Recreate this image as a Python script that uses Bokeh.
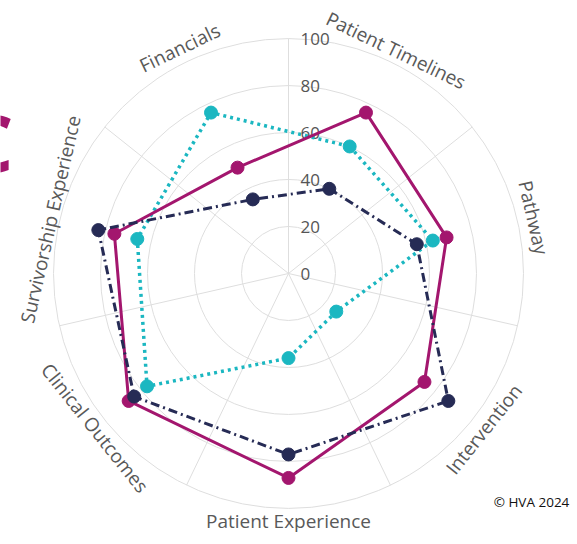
import numpy as np
from bokeh.plotting import figure
from bokeh.models import Range1d, Label
from bokeh.core.properties import value
from bokeh.embed import file_html
from bokeh.resources import INLINE

# ---------------- data ----------------
categories = ["Patient Timelines", "Pathway", "Intervention", "Patient Experience",
              "Clinical Outcomes", "Survivorship Experience", "Financials"]
series_magenta = [76, 69, 74, 87, 87, 76, 50]
series_navy = [40, 56, 87, 77, 84, 83, 35]
series_teal = [60, 63, 26, 36, 77, 66, 76]
radial_ticks = [0, 20, 40, 60, 80, 100]
r_max = 100

# ---------------- layout / style ----------------
W, H = 577, 544
CX, CY = 288, 273          # centre of the radar in pixels (from top-left)
R = 235                    # pixel radius of r_max
LABEL_R = 252
MAGENTA = "#A3166E"
NAVY = "#262B55"
TEAL = "#1BB7C1"
GRID = "#DEDEDE"
TXT = "#595959"
FONT = "Open Sans"

n = len(categories)
step = 2 * np.pi / n
theta = (np.arange(n) + 0.5) * step      # clockwise from top
scale = R / r_max


def to_xy(vals):
    v = np.asarray(vals, dtype=float) * scale
    return v * np.sin(theta), v * np.cos(theta)


p = figure(width=W, height=H, output_backend="svg", toolbar_location=None,
           x_range=Range1d(-CX, W - CX), y_range=Range1d(-(H - CY), CY),
           min_border=0, match_aspect=False)
p.axis.visible = False
p.grid.visible = False
p.outline_line_color = None
p.background_fill_color = "white"
p.border_fill_color = "white"

# grid circles
rings = [t for t in radial_ticks if t > 0]
p.circle(x=[0] * len(rings), y=[0] * len(rings), radius=[t * scale for t in rings],
         fill_color=None, line_color=GRID, line_width=1)

# spokes (between categories)
sp = np.arange(n) * step
p.segment(x0=np.zeros(n), y0=np.zeros(n), x1=R * np.sin(sp), y1=R * np.cos(sp),
          line_color=GRID, line_width=1)

# radial tick labels
p.text(x=[12] * len(radial_ticks), y=[t * scale for t in radial_ticks],
       text=[str(t) for t in radial_ticks], text_align="left", text_baseline="middle",
       text_font=value(FONT), text_font_size="17px", text_color="#555555")

# series
def draw(vals, color, dash, width):
    x, y = to_xy(vals)
    xc = np.append(x, x[0])
    yc = np.append(y, y[0])
    p.line(xc, yc, line_color=color, line_width=width, line_dash=dash,
           line_join="round")
    p.scatter(x, y, size=13, marker="circle", fill_color=color, line_color=color)

draw(series_teal, TEAL, "3 4", 3.5)
draw(series_magenta, MAGENTA, "solid", 3)
draw(series_navy, NAVY, "9 4 2 4", 3)

# category labels, tangent to the circle
fs = 19
lx, ly, ang = [], [], []
for c, t in zip(categories, theta):
    L = 0.5 * fs * len(c)
    r0 = LABEL_R - L * L / (24 * LABEL_R)
    lx.append(r0 * np.sin(t))
    ly.append(r0 * np.cos(t))
    if np.cos(t) < -0.3:
        ang.append(np.pi - t)
    else:
        ang.append(-t)
p.text(x=lx, y=ly, text=categories, angle=ang, text_align="center",
       text_baseline="middle", text_font=value(FONT), text_font_size=f"{fs}px",
       text_color=TXT)

# cropped logo letter at left edge and copyright
p.add_layout(Label(x=13 - CX, y=CY - 141, text="C", text_align="right",
                   text_baseline="alphabetic", text_font=FONT, text_font_size="78px",
                   text_font_style="bold", text_color=MAGENTA))
p.add_layout(Label(x=531 - CX, y=CY - 501, text="© HVA 2024", text_align="center",
                   text_baseline="middle", text_font=FONT, text_font_size="13.5px",
                   text_color="#111111"))

open("out.html", "w").write(file_html(p, INLINE))
